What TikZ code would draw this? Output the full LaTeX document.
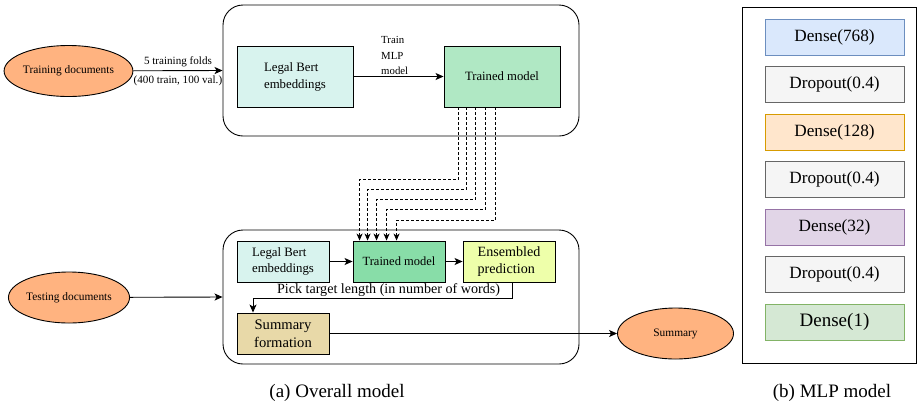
\documentclass[tikz,border=0pt]{standalone}
\usepackage{fontspec}
\setmainfont{Liberation Serif}
\usetikzlibrary{arrows.meta,shapes.geometric}
\definecolor{peach}{HTML}{FFB380}
\definecolor{cyanl}{HTML}{D8F3EE}
\definecolor{greenl}{HTML}{B0E8C4}
\definecolor{greenm}{HTML}{88DDA8}
\definecolor{yellowl}{HTML}{EEFFAA}
\definecolor{tanc}{HTML}{E8D9A8}
\definecolor{bluef}{HTML}{DAE8FC}\definecolor{blues}{HTML}{6C8EBF}
\definecolor{greyf}{HTML}{F5F5F5}\definecolor{greys}{HTML}{666666}
\definecolor{orangef}{HTML}{FFE6CC}\definecolor{oranges}{HTML}{D79B00}
\definecolor{purplef}{HTML}{E1D5E7}\definecolor{purples}{HTML}{9673A6}
\definecolor{greenf}{HTML}{D5E8D4}\definecolor{greens}{HTML}{82B366}
\newcommand{\fs}[2]{\fontsize{#1}{#2}\selectfont}
\tikzset{
  arr/.style={draw=black, line width=0.9pt, -{Stealth[length=8pt,width=7pt,inset=2pt]}},
  dasharr/.style={draw=black, line width=0.8pt, dash pattern=on 3pt off 2pt, -{Stealth[length=7pt,width=6pt,inset=2pt]}},
  box/.style={draw=black, line width=0.9pt, rectangle, inner sep=0pt, align=left},
  oval/.style={draw=black, line width=0.9pt, ellipse, fill=peach, inner sep=0pt, minimum width=116pt, minimum height=51pt, font=\fs{11.4}{13}},
  container/.style={draw=black, line width=0.9pt, rounded corners=20pt, rectangle, inner sep=0pt},
  layer/.style={rectangle, line width=1pt, minimum width=139pt, minimum height=36pt, inner sep=0pt, font=\fs{17.2}{19}},
  lbl/.style={inner sep=0pt, align=left},
  captxt/.style={inner sep=0pt, font=\fs{19}{21}}
}
\begin{document}
\begin{tikzpicture}[x=1pt,y=-1pt]
\useasboundingbox (0,0) rectangle (917,408);
% containers
\node[container, minimum width=356pt, minimum height=131pt] (topc) at (401,70.5) {};
\node[container, minimum width=356pt, minimum height=134pt] (botc) at (401,297) {};
% top row
\node[oval] (train) at (68.5,71) {Training documents};
\node[box, fill=cyanl, minimum width=116pt, minimum height=61pt, font=\fs{12.8}{17}] (lb1) at (295,76.5) {Legal Bert\\embeddings};
\node[box, fill=greenl, minimum width=116pt, minimum height=61pt, font=\fs{12.7}{14}] (tm1) at (502,76.5) {Trained model};
\draw[arr] (train) -- (topc.west)
  node[pos=0.5, above=3pt, font=\fs{11.1}{13}, inner sep=0pt] (l5) {5 training folds}
  node[pos=0.5, below=5pt, font=\fs{11.1}{13}, inner sep=0pt] (l400) {(400 train, 100 val.)};
\draw[arr] (lb1.east) -- (tm1.west);
\node[lbl, font=\fs{10.8}{15.5}, anchor=south west] (tmlp) at (381,75) {Train\\MLP\\model};
% bottom row
\node[oval] (test) at (69,297.5) {Testing documents};
\node[box, fill=cyanl, minimum width=92pt, minimum height=41pt, font=\fs{12.8}{16.5}] (lb2) at (283,261.5) {Legal Bert\\embeddings};
\node[box, fill=greenm, minimum width=92pt, minimum height=41pt, font=\fs{12.5}{14}] (tm2) at (399,261.5) {Trained model};
\node[box, fill=yellowl, minimum width=92pt, minimum height=41pt, font=\fs{14.1}{17.5}] (ens) at (509,261.5) {Ensembled\\prediction};
\node[box, fill=tanc, align=center, minimum width=92pt, minimum height=41pt, font=\fs{14.6}{18}] (sf) at (283,333.5) {Summary\\formation};
\node[oval] (sum) at (675.5,333.5) {Summary};
\draw[arr] (test) -- (botc.west);
\draw[arr] (lb2.east) -- (tm2.west);
\draw[arr] (tm2.east) -- (ens.west);
\draw[arr] ([xshift=3pt]ens.south) -- ++(0,16) -| ([xshift=-30pt]sf.north);
\node[font=\fs{14.1}{16}, inner sep=0pt] (pick) at (388.5,290) {Pick target length (in number of words)};
\draw[arr] (sf.east |- sum.west) -- (sum.west);
% dashed connectors
\draw[dasharr] ([xshift=15pt]tm1.south west) -- ++(0,72) -| ([xshift=7pt]tm2.north west);
\draw[dasharr] ([xshift=23pt]tm1.south west) -- ++(0,82) -| ([xshift=15pt]tm2.north west);
\draw[dasharr] ([xshift=32pt]tm1.south west) -- ++(0,92) -| ([xshift=24pt]tm2.north west);
\draw[dasharr] ([xshift=42pt]tm1.south west) -- ++(0,102) -| ([xshift=34pt]tm2.north west);
\draw[dasharr] ([xshift=52pt]tm1.south west) -- ++(0,113) -| ([xshift=44pt]tm2.north west);
\node[captxt] (capa) at (337,393) {(a) Overall model};
% MLP panel
\node[draw=black, line width=0.9pt, rectangle, inner sep=0pt, minimum width=174pt, minimum height=356pt] (mlp) at (829,185) {};
\node[layer, draw=blues, fill=bluef] (d768) at (834.5,37) {Dense(768)};
\node[layer, draw=greys, fill=greyf] (dr1) at (834.5,84.5) {Dropout(0.4)};
\node[layer, draw=oranges, fill=orangef] (d128) at (834.5,132) {Dense(128)};
\node[layer, draw=greys, fill=greyf] (dr2) at (834.5,179.5) {Dropout(0.4)};
\node[layer, draw=purples, fill=purplef] (d32) at (834.5,227) {Dense(32)};
\node[layer, draw=greys, fill=greyf] (dr3) at (834.5,274.5) {Dropout(0.4)};
\node[layer, draw=greens, fill=greenf, font=\fs{19}{21}] (d1) at (834.5,322) {Dense(1)};
\node[captxt] (capb) at (832,393) {(b) MLP model};
\end{tikzpicture}
\end{document}
